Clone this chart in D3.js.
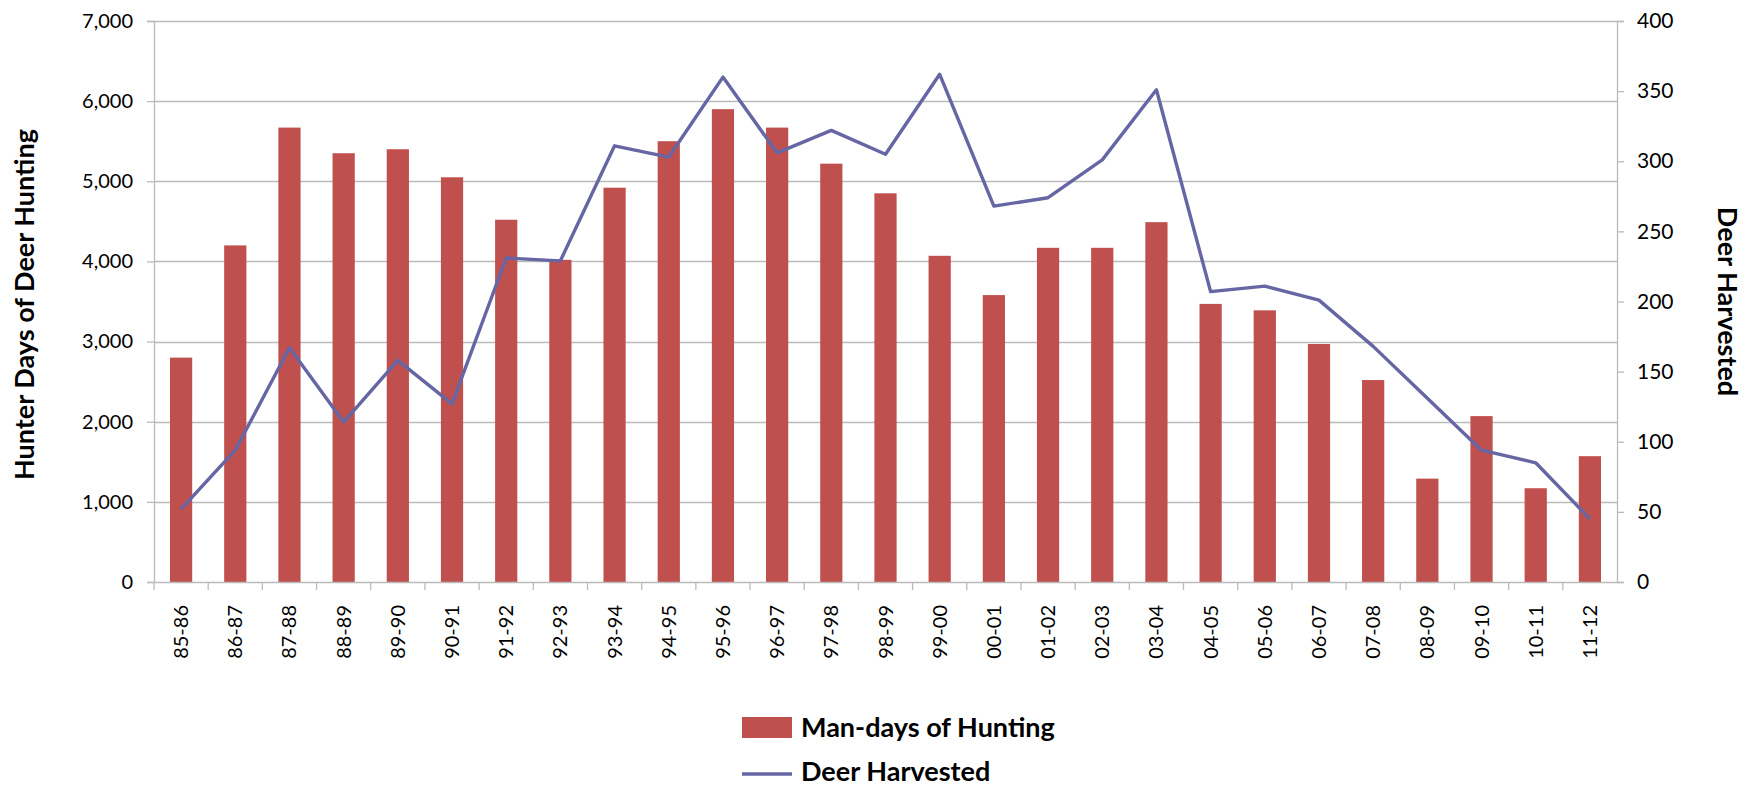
<!DOCTYPE html>
<html>
<head>
<meta charset="utf-8">
<script src="https://cdn.jsdelivr.net/npm/d3@7"></script>
<style>
  body { margin: 0; background: #fff; }
  text { font-family: Lato, "Open Sans", sans-serif; fill: #000; }
</style>
</head>
<body>
<script>
//chart data
var seasons = ["85-86","86-87","87-88","88-89","89-90","90-91","91-92","92-93","93-94","94-95",
               "95-96","96-97","97-98","98-99","99-00","00-01","01-02","02-03","03-04","04-05",
               "05-06","06-07","07-08","08-09","09-10","10-11","11-12"];
var manDays = [2800, 4200, 5670, 5350, 5400, 5050, 4520, 4020, 4920, 5500,
               5900, 5670, 5220, 4850, 4070, 3580, 4170, 4170, 4490, 3470,
               3390, 2970, 2520, 1290, 2070, 1170, 1570];
var deerHarvested = [52, 94, 167, 114, 158, 127, 231, 229, 311, 303,
                     360, 306, 322, 305, 362, 268, 274, 301, 351, 207,
                     211, 201, 168, 131, 94, 85, 45];
var leftTicks = [0, 1000, 2000, 3000, 4000, 5000, 6000, 7000];
var rightTicks = [0, 50, 100, 150, 200, 250, 300, 350, 400];

var w = 1748, h = 787;
var plotLeft = 154, plotRight = 1617, plotTop = 21, plotBottom = 582;
var barColor = "#C0504D", lineColor = "#6566A3", gridColor = "#BABABA";

//size a bold label so that it spans about the same length as in the original (Calibri is narrower)
function fitText(sel, target){
    sel.style("font-size", "25px");
    var len = sel.node().getComputedTextLength();
    sel.style("font-size", Math.min(27, 25 * target / len) + "px");
}

window.onload = function(){

    var svg = d3.select("body").append("svg")
        .attr("width", w)
        .attr("height", h)
        .attr("class", "container");

    svg.append("rect").attr("width", w).attr("height", h).style("fill", "#fff");

    //scales
    var x = d3.scaleBand()
        .domain(seasons)
        .range([plotLeft, plotRight])
        .paddingInner(0.59)
        .paddingOuter(0.295);

    var yLeft = d3.scaleLinear().domain([0, 7000]).range([plotBottom, plotTop]);
    var yRight = d3.scaleLinear().domain([0, 400]).range([plotBottom, plotTop]);

    //gridlines
    svg.selectAll(".grid")
        .data(leftTicks.slice(1))
        .enter()
        .append("line")
        .attr("class", "grid")
        .attr("x1", plotLeft)
        .attr("x2", plotRight)
        .attr("y1", function(d){ return Math.round(yLeft(d)) + 0.5; })
        .attr("y2", function(d){ return Math.round(yLeft(d)) + 0.5; })
        .style("stroke", gridColor)
        .style("stroke-width", 1.3);

    //bars
    svg.selectAll(".bars")
        .data(seasons)
        .enter()
        .append("rect")
        .attr("class", "bars")
        .attr("x", function(d){ return x(d); })
        .attr("width", x.bandwidth())
        .attr("y", function(d, i){ return yLeft(manDays[i]); })
        .attr("height", function(d, i){ return plotBottom - yLeft(manDays[i]); })
        .style("fill", barColor);

    //left axis
    svg.append("g")
        .attr("class", "axis")
        .attr("transform", "translate(" + plotLeft + ",0)")
        .call(d3.axisLeft(yLeft).tickValues(leftTicks).tickFormat(d3.format(",")).tickSize(7).tickPadding(14));

    //right axis
    var rightAxis = svg.append("g")
        .attr("class", "axis")
        .attr("transform", "translate(" + plotRight + ",0)")
        .call(d3.axisRight(yRight).tickValues(rightTicks).tickSize(7).tickPadding(13));

    //bottom axis: ticks sit on the band boundaries
    var bottomAxis = svg.append("g")
        .attr("class", "axis")
        .attr("transform", "translate(0," + plotBottom + ")")
        .call(d3.axisBottom(x).tickSize(0).tickPadding(0));

    bottomAxis.selectAll(".tick text")
        .attr("transform", "rotate(-90)")
        .attr("x", -23)
        .attr("y", 0)
        .attr("dy", "0.35em")
        .style("text-anchor", "end");

    bottomAxis.selectAll(".bound")
        .data(seasons)
        .enter()
        .append("line")
        .attr("class", "bound")
        .attr("x1", function(d){ return x(d) - x.step() * 0.295; })
        .attr("x2", function(d){ return x(d) - x.step() * 0.295; })
        .attr("y1", 0)
        .attr("y2", 8);

    svg.selectAll(".axis path, .axis line")
        .style("stroke", gridColor)
        .style("stroke-width", 1.3);

    svg.selectAll(".axis text")
        .style("font-size", "20px")
        .style("fill", "#000");

    rightAxis.selectAll("text").style("font-size", "21px");

    //deer line
    var line = d3.line()
        .x(function(d, i){ return x(seasons[i]) + x.bandwidth() / 2; })
        .y(function(d){ return yRight(d); });

    svg.append("path")
        .datum(deerHarvested)
        .attr("class", "deerLine")
        .attr("d", line)
        .style("fill", "none")
        .style("stroke", lineColor)
        .style("stroke-width", 3.4)
        .style("stroke-linejoin", "round");

    //axis titles
    var leftTitle = svg.append("text")
        .attr("transform", "translate(34," + ((plotTop + plotBottom) / 2 + 3) + ") rotate(-90)")
        .attr("text-anchor", "middle")
        .style("font-weight", "bold")
        .text("Hunter Days of Deer Hunting");
    fitText(leftTitle, 395);

    var rightTitle = svg.append("text")
        .attr("transform", "translate(1718," + ((plotTop + plotBottom) / 2) + ") rotate(90)")
        .attr("text-anchor", "middle")
        .style("font-weight", "bold")
        .text("Deer Harvested");
    fitText(rightTitle, 205);

    //legend
    var legend = svg.append("g").attr("class", "legend");

    legend.append("rect")
        .attr("x", 742)
        .attr("y", 717)
        .attr("width", 50)
        .attr("height", 21)
        .style("fill", barColor);

    var leg1 = legend.append("text")
        .attr("x", 801)
        .attr("y", 737)
        .style("font-weight", "bold")
        .text("Man-days of Hunting");
    fitText(leg1, 280);

    legend.append("line")
        .attr("x1", 742)
        .attr("x2", 792)
        .attr("y1", 774)
        .attr("y2", 774)
        .style("stroke", lineColor)
        .style("stroke-width", 3.4);

    var leg2 = legend.append("text")
        .attr("x", 801)
        .attr("y", 781)
        .style("font-weight", "bold")
        .text("Deer Harvested");
    fitText(leg2, 205);
};
</script>
</body>
</html>
